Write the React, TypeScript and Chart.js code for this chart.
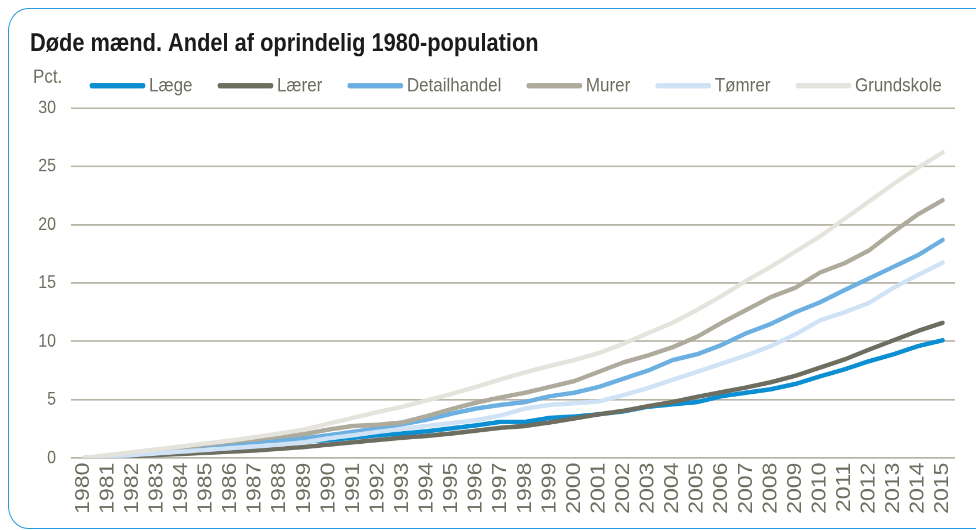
import React, { useEffect, useRef } from "react";
import { Chart, registerables } from "chart.js";

Chart.register(...registerables);

const TITLE = "Døde mænd. Andel af oprindelig 1980-population";
const Y_UNIT = "Pct.";

const years = [
  "1980", "1981", "1982", "1983", "1984", "1985", "1986", "1987", "1988", "1989",
  "1990", "1991", "1992", "1993", "1994", "1995", "1996", "1997", "1998", "1999",
  "2000", "2001", "2002", "2003", "2004", "2005", "2006", "2007", "2008", "2009",
  "2010", "2011", "2012", "2013", "2014", "2015",
];

const seriesNames = ["Læge", "Lærer", "Detailhandel", "Murer", "Tømrer", "Grundskole"];

const laege = [0, 0.05, 0.2, 0.4, 0.6, 0.8, 1.0, 1.15, 1.3, 1.4, 1.55, 1.75, 1.95, 2.1, 2.3, 2.55, 2.8, 3.1, 3.1, 3.45, 3.55, 3.75, 4.0, 4.4, 4.6, 4.8, 5.3, 5.6, 5.9, 6.35, 7.0, 7.6, 8.3, 8.9, 9.6, 10.1];
const laerer = [0, 0.05, 0.15, 0.25, 0.35, 0.45, 0.55, 0.65, 0.8, 0.95, 1.15, 1.35, 1.55, 1.75, 1.9, 2.1, 2.35, 2.6, 2.75, 3.05, 3.4, 3.75, 4.05, 4.45, 4.8, 5.25, 5.65, 6.05, 6.5, 7.05, 7.75, 8.45, 9.3, 10.1, 10.9, 11.6];
const detailhandel = [0, 0.15, 0.35, 0.55, 0.7, 0.9, 1.1, 1.3, 1.5, 1.7, 1.95, 2.25, 2.55, 2.9, 3.3, 3.8, 4.25, 4.55, 4.8, 5.3, 5.6, 6.1, 6.8, 7.5, 8.4, 8.9, 9.7, 10.7, 11.5, 12.5, 13.35, 14.4, 15.4, 16.4, 17.4, 18.7];
const murer = [0, 0.2, 0.45, 0.7, 0.9, 1.15, 1.4, 1.6, 1.85, 2.05, 2.45, 2.75, 2.85, 3.05, 3.6, 4.2, 4.75, 5.2, 5.6, 6.1, 6.6, 7.4, 8.2, 8.8, 9.5, 10.4, 11.6, 12.7, 13.8, 14.6, 15.9, 16.7, 17.8, 19.4, 20.9, 22.1];
const toemrer = [0, 0.1, 0.25, 0.4, 0.55, 0.7, 0.85, 1.0, 1.15, 1.35, 1.7, 1.95, 2.25, 2.5, 2.75, 3.0, 3.25, 3.65, 4.25, 4.55, 4.7, 4.85, 5.4, 6.0, 6.7, 7.4, 8.1, 8.8, 9.6, 10.6, 11.8, 12.5, 13.3, 14.6, 15.7, 16.75];
const grundskole = [0, 0.25, 0.5, 0.75, 1.0, 1.25, 1.5, 1.8, 2.1, 2.45, 2.95, 3.45, 3.95, 4.4, 4.95, 5.5, 6.1, 6.75, 7.35, 7.9, 8.4, 9.0, 9.8, 10.7, 11.6, 12.7, 13.9, 15.2, 16.4, 17.7, 19.0, 20.5, 22.0, 23.5, 24.9, 26.2];

const seriesValues = [laege, laerer, detailhandel, murer, toemrer, grundskole];
const seriesColors = ["#0a8fd3", "#6e6e60", "#6cb0e2", "#aeab9d", "#cfe2f6", "#e4e4dd"];
const drawOrder = [5, 4, 3, 2, 1, 0];

const yTicks = [0, 5, 10, 15, 20, 25, 30];

const TEXT = "#6d6d60";
const GRID = "#b8b5a7";
const FONT = '"Liberation Sans", Arial, sans-serif';
const W = 976;
const H = 461;
const S = 530 / H;

const overlayPlugin = {
  id: "overlay",
  afterDraw(chart: any) {
    const ctx = chart.ctx;
    ctx.save();
    ctx.textAlign = "left";
    ctx.textBaseline = "middle";
    ctx.fillStyle = "#1b1b1b";
    ctx.font = `bold 21.8px ${FONT}`;
    ctx.fillText(TITLE, 30, 38.5);
    ctx.fillStyle = TEXT;
    ctx.font = `17px ${FONT}`;
    ctx.fillText(Y_UNIT, 33, 67.5);
    ctx.font = `17px ${FONT}`;
    let x = 90;
    const y = 74.5;
    const L = 55;
    chart.data.datasets.forEach((ds: any) => {
      ctx.strokeStyle = ds.borderColor;
      ctx.lineWidth = 4.8;
      ctx.lineCap = "round";
      ctx.beginPath();
      ctx.moveTo(x + 2, y);
      ctx.lineTo(x + L - 2, y);
      ctx.stroke();
      x += L + 4;
      ctx.fillText(ds.label, x, y + 0.5);
      x += ctx.measureText(ds.label).width + 25.5;
    });
    ctx.restore();
  },
};

export default function App() {
  const ref = useRef<HTMLCanvasElement | null>(null);

  useEffect(() => {
    if (!ref.current) return;
    const chart = new Chart(ref.current, {
      type: "line",
      data: {
        labels: years,
        datasets: seriesNames.map((name, i) => ({
          label: name,
          data: seriesValues[i],
          borderColor: seriesColors[i],
          backgroundColor: seriesColors[i],
          borderWidth: 3.9,
          pointRadius: 0,
          pointHoverRadius: 0,
          tension: 0,
          fill: false,
          borderCapStyle: "round",
          borderJoinStyle: "round",
          order: drawOrder[i],
        })),
      },
      options: {
        animation: false,
        responsive: true,
        maintainAspectRatio: false,
        devicePixelRatio: 2,
        layout: { padding: { top: 94, right: 21, bottom: 0, left: 0 } },
        plugins: {
          legend: { display: false },
          title: { display: false },
          tooltip: { enabled: false },
        },
        scales: {
          x: {
            offset: true,
            grid: { display: false, drawTicks: false },
            border: { display: false },
            ticks: {
              autoSkip: false,
              minRotation: 90,
              maxRotation: 90,
              padding: 4,
              color: TEXT,
              font: { family: FONT, size: 20 },
            },
            afterFit: (scale: any) => {
              scale.height = 62.6;
            },
          },
          y: {
            min: 0,
            max: 30,
            afterBuildTicks: (scale: any) => {
              scale.ticks = yTicks.map((v) => ({ value: v }));
            },
            grid: { color: GRID, lineWidth: 1.4, drawTicks: false },
            border: { display: false },
            ticks: {
              padding: 15,
              color: TEXT,
              font: { family: FONT, size: 16 },
            },
            afterFit: (scale: any) => {
              scale.width = 71;
            },
          },
        },
      },
      plugins: [overlayPlugin],
    });
    return () => chart.destroy();
  }, []);

  return (
    <div style={{ position: "fixed", left: 0, top: 0, width: W, height: 530, overflow: "hidden", background: "#ffffff" }}>
      <div
        style={{
          position: "absolute",
          left: 8,
          top: 8,
          width: 1100,
          height: 521,
          borderTop: "1.5px solid #2a9dd8",
          borderLeft: "1.5px solid #2a9dd8",
          borderBottom: "1.5px solid #2a9dd8",
          borderRight: "none",
          borderTopLeftRadius: "20px 23px",
          borderBottomLeftRadius: "20px 23px",
          boxSizing: "border-box",
        }}
      />
      <div
        style={{
          position: "absolute",
          left: 0,
          top: 0,
          width: W,
          height: H,
          transform: `scaleY(${S})`,
          transformOrigin: "0 0",
        }}
      >
        <canvas ref={ref} />
      </div>
    </div>
  );
}
